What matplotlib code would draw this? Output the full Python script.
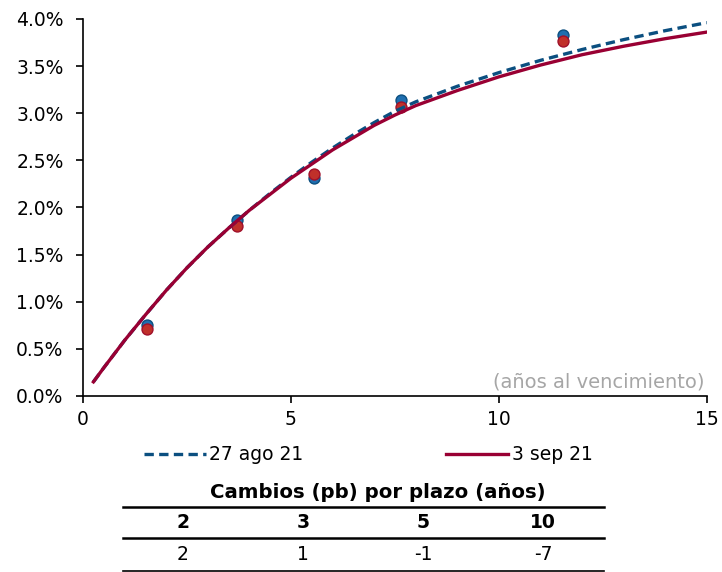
import numpy as np
import matplotlib
matplotlib.use("Agg")
import matplotlib.pyplot as plt
from matplotlib.lines import Line2D
from matplotlib.ticker import FuncFormatter

plt.rcParams['font.family'] = ['DejaVu Sans']

# observed yields (maturity in years, yield in %)
obs_x = [1.53, 3.71, 5.55, 7.64, 11.55]
obs_ago = [0.75, 1.87, 2.31, 3.14, 3.83]
obs_sep = [0.71, 1.80, 2.355, 3.07, 3.77]

# fitted curves
curve_x = [0.25, 0.5, 1.0, 1.5, 2.0, 2.5, 3.0, 3.5, 4.0, 4.5, 5.0, 5.5, 6.0,
           6.5, 7.0, 7.5, 8.0, 9.0, 10.0, 11.0, 12.0, 13.0, 14.0, 15.0]
curve_ago = [0.15, 0.30, 0.59, 0.86, 1.12, 1.36, 1.58, 1.78, 1.97, 2.15, 2.32, 2.48, 2.63,
             2.77, 2.90, 3.02, 3.12, 3.285, 3.43, 3.56, 3.675, 3.78, 3.875, 3.96]
curve_sep = [0.15, 0.30, 0.59, 0.86, 1.12, 1.36, 1.58, 1.78, 1.97, 2.14, 2.31, 2.46, 2.61,
             2.74, 2.87, 2.98, 3.08, 3.24, 3.385, 3.51, 3.62, 3.71, 3.79, 3.86]

labels = ["27 ago 21", "3 sep 21"]
table_title = "Cambios (pb) por plazo (años)"
table_head = ["2", "3", "5", "10"]
table_vals = ["2", "1", "-1", "-7"]

blue = "#0b4f80"
red = "#990033"
fs = 13.5

fig = plt.figure(figsize=(7.22, 5.72), dpi=100)
ax = fig.add_axes([0.115, 0.3077, 0.864, 0.6593])

ax.scatter(obs_x, obs_ago, s=62, color="#1f6fb0", edgecolor="#0b4f80", linewidth=1, zorder=2)
ax.scatter(obs_x, obs_sep, s=62, color="#c0302a", edgecolor="#a0102a", linewidth=1, zorder=3)
l1, = ax.plot(curve_x, curve_ago, color=blue, lw=2.4, dashes=(2.8, 1.6), zorder=4)
l2, = ax.plot(curve_x, curve_sep, color=red, lw=2.4, zorder=5)

ax.set_xlim(0, 15)
ax.set_ylim(0, 4.0)
ax.set_xticks([0, 5, 10, 15])
ax.set_yticks(np.arange(0, 4.01, 0.5))
ax.yaxis.set_major_formatter(FuncFormatter(lambda v, p: f"{v:.1f}%"))
for s in ["top", "right"]:
    ax.spines[s].set_visible(False)
for s in ["left", "bottom"]:
    ax.spines[s].set_linewidth(1.2)
ax.tick_params(axis="both", labelsize=fs, length=5, width=1.2, direction="out")
ax.tick_params(axis="x", pad=5)
ax.tick_params(axis="y", pad=9)

ax.text(0.997, 0.012, "(años al vencimiento)", transform=ax.transAxes, ha="right",
        va="bottom", color="#a6a6a6", fontsize=14)

fig.legend([l1, l2], labels, loc="center", bbox_to_anchor=(0.51, 1 - 455 / 572), ncol=2,
           frameon=False, fontsize=fs, handlelength=3.3, handletextpad=0.2,
           columnspacing=7.6)

# change table
fig.text(378 / 722, 1 - 492 / 572, table_title, ha="center", va="center",
         fontsize=14.2, fontweight="bold")
col_x = [183, 303, 423, 543]
for yy in [507, 538, 571]:
    fig.add_artist(Line2D([123 / 722, 604 / 722], [1 - yy / 572] * 2, color="black",
                          lw=1.8 if yy != 571 else 1.2, transform=fig.transFigure))
for cx, h, v in zip(col_x, table_head, table_vals):
    fig.text(cx / 722, 1 - 522 / 572, h, ha="center", va="center", fontsize=fs,
             fontweight="bold")
    fig.text(cx / 722, 1 - 555 / 572, v, ha="center", va="center", fontsize=fs)

fig.savefig("out.png", dpi=100)
